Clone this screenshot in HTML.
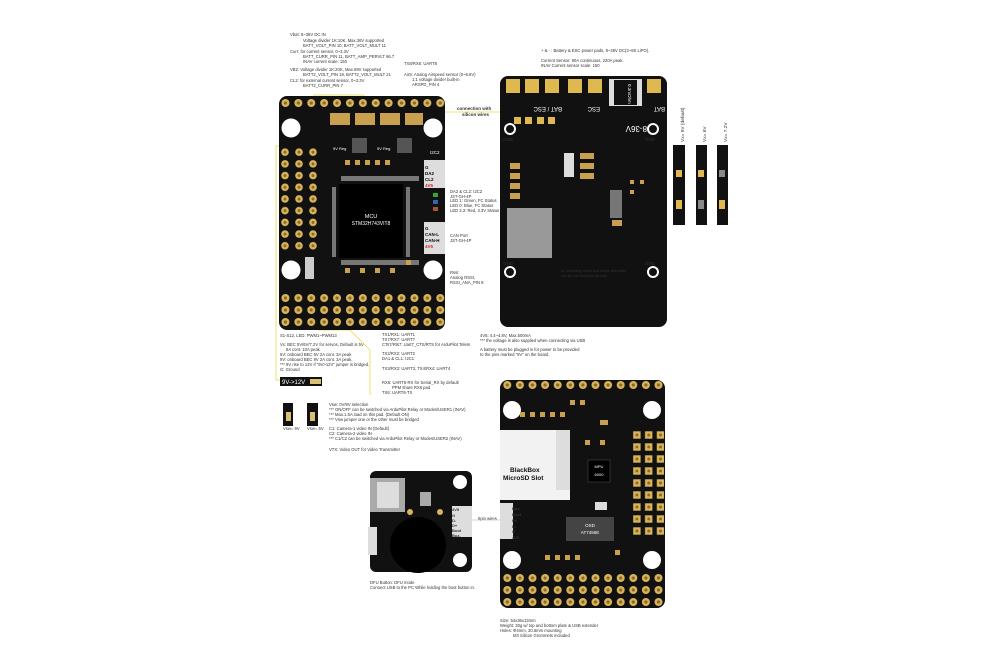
<!DOCTYPE html>
<html><head><meta charset="utf-8"><style>
html,body{margin:0;padding:0;background:#fff;width:1000px;height:667px;overflow:hidden}
svg{display:block}
text{font-family:"Liberation Sans",sans-serif;fill:#333}
.t{font-size:4.2px}
.w{fill:#fff;font-family:"Liberation Sans",sans-serif}
</style></head><body>
<svg width="1000" height="667" viewBox="0 0 1000 667" xmlns="http://www.w3.org/2000/svg">
<defs>
<pattern id="p1t" x="279" y="97" width="12.9" height="12" patternUnits="userSpaceOnUse"><circle cx="6.45" cy="6" r="4" fill="#d9b45a"/><circle cx="6.45" cy="6" r="1.6" fill="#8a6a2a"/></pattern>
<pattern id="p1l" x="278" y="146.3" width="14" height="11.7" patternUnits="userSpaceOnUse"><circle cx="7" cy="5.85" r="3.8" fill="#d9b45a"/><circle cx="7" cy="5.85" r="1.5" fill="#8a6a2a"/></pattern>
<pattern id="p1b" x="279" y="292" width="12.9" height="12" patternUnits="userSpaceOnUse"><circle cx="6.45" cy="6" r="4" fill="#d9b45a"/><circle cx="6.45" cy="6" r="1.6" fill="#8a6a2a"/></pattern>
<pattern id="p4t" x="501" y="379" width="12.6" height="12" patternUnits="userSpaceOnUse"><circle cx="6.3" cy="6" r="4" fill="#d9b45a"/><circle cx="6.3" cy="6" r="1.6" fill="#8a6a2a"/></pattern>
<pattern id="p4b" x="501" y="572" width="12.6" height="12" patternUnits="userSpaceOnUse"><circle cx="6.3" cy="6" r="4" fill="#d9b45a"/><circle cx="6.3" cy="6" r="1.6" fill="#8a6a2a"/></pattern>
<pattern id="pg" x="631" y="429" width="11.8" height="12" patternUnits="userSpaceOnUse"><rect x="2.2" y="2.3" width="7.4" height="7.4" fill="#d9b45a"/><circle cx="5.9" cy="6" r="1.5" fill="#8a6a2a"/></pattern>
</defs>

<g class="t">
<text x="290" y="36">Vbat:  8~36V DC IN</text>
<text x="303" y="42">Voltage divider 1K:10K,  Max.36V supported</text>
<text x="303" y="47">BATT_VOLT_PIN  10,  BATT_VOLT_MULT  11</text>
<text x="290" y="53">Curr:  for current sensor, 0~3.3V</text>
<text x="303" y="58">BATT_CURR_PIN 11,  BATT_AMP_PERVLT  66.7</text>
<text x="303" y="63">INAV current scale: 150</text>
<text x="290" y="71">VB2:  Voltage divider 1K:20K,  Max.69V supported</text>
<text x="303" y="76">BATT2_VOLT_PIN  18,   BATT2_VOLT_MULT  21</text>
<text x="290" y="82">CL2:  for external current sensor, 0~3.3V</text>
<text x="303" y="87">BATT2_CURR_PIN 7</text>
<text x="404" y="65">TX8/RX8: UART8</text>
<text x="404" y="76">AirS: Analog Airspeed sensor (0~6.6V)</text>
<text x="412" y="81">1:1 voltage divider built-in</text>
<text x="412" y="86">ARSPD_PIN  4</text>
<text x="541" y="52">+ &amp; - : Battery &amp; ESC power pads,  8~36V DC(3~8S LiPO).</text>
<text x="541" y="62">Current Sensor: 90A continuous, 220A peak.</text>
<text x="541" y="67">INAV Current sensor scale: 150</text>
<text x="450" y="193">DA2 &amp; CL2: I2C2</text><text x="450" y="198">JST-GH-4P</text>
<text x="450" y="202">LED 1: Green, FC Status</text>
<text x="450" y="207">LED 0: Blue, FC Status</text>
<text x="450" y="212">LED 3.3: Red, 3.3V Status</text>
<text x="450" y="237">CAN Port</text><text x="450" y="242">JST-GH-4P</text>
<text x="450" y="274">Rssi:</text><text x="450" y="279">Analog RSSI,</text><text x="450" y="284">RSSI_ANA_PIN 8</text>
<text x="280" y="337">S1-S12, LED:  PWM1~PWM13</text>
<text x="280" y="346">Vx: BEC 5V/6V/7.2V for servos, Default is 5V</text>
<text x="286" y="351">8A cont. 10A peak</text>
<text x="280" y="356">5V: onboard BEC 5V 2A cont. 3A peak</text>
<text x="280" y="361">9V: onboard BEC 9V 2A cont. 3A peak,</text>
<text x="280" y="366">*** 9V rise to 12V if "9V&gt;12V" jumper is bridged.</text>
<text x="280" y="371">G: Ground</text>
<text x="382" y="336">TX1/RX1: UART1</text>
<text x="382" y="341">TX7/RX7: UART7</text>
<text x="382" y="346">CTs7/Rts7: Uart7_CTS/RTS for ArduPilot Telem</text>
<text x="382" y="355">TX2/RX2: UART2</text>
<text x="382" y="360">DA1 &amp; CL1: I2C1</text>
<text x="382" y="370">TX3/RX3: UART3,   TX4/RX4: UART4</text>
<text x="382" y="384">RX6: UART6-RX for Serial_RX by default</text>
<text x="392" y="389">PPM share RX6 pad</text>
<text x="382" y="394">TX6: UART6-TX</text>
<text x="480" y="337">4V5: 4.4~4.8V, Max.500mA</text>
<text x="480" y="342">*** the voltage is also supplied when connecting via USB</text>
<text x="480" y="351">A battery must be plugged in for power to be provided</text>
<text x="480" y="356">to the pins marked "5V" on the board.</text>
<text x="329" y="406">Vsw: 0V/9V selection</text>
<text x="329" y="411">*** ON/OFF can be switched via ArduPilot Relay or Modes/USER1 (INAV)</text>
<text x="329" y="416">*** Max.1.5A load on this pad.  (Default ON)</text>
<text x="329" y="421">*** Vsw jumper one or the other must be bridged</text>
<text x="329" y="430">C1: Camera-1 video IN (Default)</text>
<text x="329" y="435">C2: Camera-2 video IN</text>
<text x="329" y="440">*** C1/C2 can be switched via ArduPilot Relay or Modes/USER2 (INAV)</text>
<text x="329" y="451">VTX: Video OUT for Video Transmitter</text>
<text x="370" y="584">DFU Button: DFU mode</text>
<text x="370" y="589">Connect USB to the PC While holding the boot button in.</text>
<text x="478" y="520">6pin wires</text>
<text x="500" y="622">Size: 54x36x13mm</text>
<text x="500" y="627">Weight: 30g w/ top and bottom plate &amp; USB extender</text>
<text x="500" y="632">Holes: Φ4mm, 30.5mm mounting</text>
<text x="513" y="637">M3 Silicon Grommets included</text>
<text x="283" y="430">Vsw= 9V</text><text x="307" y="430">Vsw= 5V</text>
</g>

<g fill="none" stroke="#e8d84a" stroke-width="0.8">
<rect x="314" y="95" width="50" height="15"/>
<path d="M445 112 L505 112"/>
<rect x="510" y="113" width="51" height="16" rx="2"/>
<path d="M300 146 L276 146 L276 380 L281 380"/>
<rect x="302" y="254" width="16" height="30"/>
<rect x="318" y="282" width="32" height="48"/>
<path d="M350 330 L370 350 L370 395"/>
</g>
<g class="t"><text x="457" y="110" style="font-weight:bold;font-size:4.5px">connection with</text><text x="462" y="116" style="font-weight:bold;font-size:4.5px">silicon wires</text></g>

<!-- Board 1 -->
<rect x="279" y="96" width="166" height="234" rx="8" fill="#111"/>
<rect x="279" y="97" width="166" height="12" fill="url(#p1t)"/>
<rect x="278" y="146" width="42" height="105" fill="url(#p1l)"/>
<rect x="279" y="292" width="166" height="36" fill="url(#p1b)"/>
<g fill="#fff"><circle cx="291" cy="128" r="9.5"/><circle cx="433" cy="128" r="9.5"/><circle cx="291" cy="270" r="9.5"/><circle cx="433" cy="270" r="9.5"/></g>
<g fill="#c8a050"><rect x="330" y="113" width="20" height="12"/><rect x="355" y="113" width="20" height="12"/><rect x="380" y="113" width="20" height="12"/><rect x="405" y="113" width="18" height="12"/></g>
<rect x="352" y="138" width="15" height="15" fill="#555"/><rect x="397" y="138" width="15" height="15" fill="#555"/>
<text x="333" y="150" class="w" style="font-size:4px">9V Reg</text><text x="377" y="150" class="w" style="font-size:4px">5V Reg</text>
<rect x="341" y="176" width="78" height="5" fill="#777"/><rect x="341" y="260" width="78" height="5" fill="#777"/>
<rect x="332" y="187" width="4" height="70" fill="#777"/><rect x="406" y="187" width="4" height="70" fill="#777"/>
<rect x="339" y="184" width="64" height="74" fill="#000"/>
<text x="371" y="218" class="w" style="font-size:5.5px" text-anchor="middle">MCU</text>
<text x="371" y="225" class="w" style="font-size:5px" text-anchor="middle">STM32H743VIT8</text>
<rect x="424" y="160" width="21" height="28" fill="#ddd"/><rect x="424" y="222" width="21" height="32" fill="#ddd"/>
<g style="font-size:4.5px;font-weight:bold;font-family:'Liberation Sans'"><text x="425" y="169" style="fill:#000">G</text><text x="425" y="175" style="fill:#000">DA2</text><text x="425" y="181" style="fill:#000">CL2</text><text x="425" y="187" style="fill:#d22">4V5</text>
<text x="425" y="230" style="fill:#000">G</text><text x="425" y="236" style="fill:#000">CAN-L</text><text x="425" y="242" style="fill:#000">CAN-H</text><text x="425" y="248" style="fill:#d22">4V5</text></g>
<text x="430" y="154" class="w" style="font-size:4.5px">I2C2</text>
<g fill="#c8a050"><rect x="345" y="160" width="5" height="5"/><rect x="355" y="160" width="5" height="5"/><rect x="365" y="160" width="5" height="5"/><rect x="375" y="160" width="5" height="5"/><rect x="385" y="160" width="5" height="5"/><rect x="345" y="268" width="5" height="5"/><rect x="360" y="268" width="5" height="5"/><rect x="375" y="268" width="5" height="5"/><rect x="390" y="268" width="5" height="5"/><rect x="406" y="260" width="5" height="5"/></g>
<rect x="305" y="257" width="9" height="22" fill="#ccc"/>
<rect x="433" y="193" width="5" height="4" fill="#3a3"/><rect x="433" y="200" width="5" height="4" fill="#36a"/><rect x="433" y="207" width="5" height="4" fill="#a53"/>

<!-- Board 2 -->
<rect x="500" y="76" width="167" height="251" rx="8" fill="#111"/>
<g fill="#e0b850"><rect x="506" y="79" width="14" height="14"/><rect x="525" y="79" width="14" height="14"/><rect x="545" y="79" width="14" height="14"/><rect x="568" y="79" width="14" height="14"/><rect x="588" y="79" width="14" height="14"/><rect x="647" y="79" width="14" height="14"/></g>
<rect x="609" y="79" width="33" height="27" fill="#ddd"/><rect x="614" y="80" width="23" height="25" fill="#111"/>
<text x="0" y="0" class="w" transform="translate(628,84) rotate(90)" style="font-size:4.5px">0.3mOhm</text>
<g style="font-size:6px"><text x="0" y="0" transform="translate(562,107) rotate(180)" class="w">BAT / ESC</text><text x="0" y="0" transform="translate(600,107) rotate(180)" class="w">ESC</text><text x="0" y="0" transform="translate(665,107) rotate(180)" class="w">BAT</text><text x="0" y="0" transform="translate(647,126) rotate(180)" class="w" style="font-size:8px">8-36V</text></g>
<g fill="#e0b850"><rect x="514" y="117" width="7" height="7"/><rect x="525" y="117" width="7" height="7"/><rect x="537" y="117" width="7" height="7"/><rect x="548" y="117" width="7" height="7"/></g>
<g fill="none" stroke="#fff" stroke-width="2"><circle cx="510" cy="129" r="5"/><circle cx="653" cy="129" r="5"/><circle cx="510" cy="272" r="5"/><circle cx="653" cy="272" r="5"/></g>
<g class="w" style="font-size:4.5px"><text x="503" y="141">GND</text><text x="645" y="141">GND</text><text x="503" y="265">GND</text><text x="645" y="265">GND</text>
<text x="561" y="272" style="font-size:3.8px">4x mounting holes and brass standoffs</text><text x="561" y="277" style="font-size:3.8px">are all connected to ground</text></g>
<rect x="507" y="208" width="45" height="50" fill="#999"/>
<g fill="#c8a050"><rect x="510" y="163" width="10" height="6"/><rect x="510" y="173" width="10" height="6"/><rect x="510" y="183" width="10" height="6"/><rect x="510" y="193" width="10" height="6"/><rect x="580" y="153" width="14" height="6"/><rect x="580" y="163" width="14" height="6"/><rect x="580" y="173" width="14" height="6"/><rect x="612" y="220" width="10" height="6"/><rect x="630" y="180" width="4" height="4"/><rect x="630" y="190" width="4" height="4"/><rect x="640" y="180" width="4" height="4"/></g>
<rect x="610" y="190" width="12" height="28" fill="#777"/>
<rect x="564" y="153" width="10" height="24" fill="#ddd"/>

<g fill="#111"><rect x="673" y="145" width="12" height="80"/><rect x="696" y="145" width="11" height="80"/><rect x="717" y="145" width="11" height="80"/></g>
<g fill="#e0b850"><rect x="676" y="170" width="6" height="7"/><rect x="698" y="170" width="6" height="7"/><rect x="719" y="170" width="6" height="7" fill="#888"/><rect x="676" y="200" width="6" height="9"/><rect x="698" y="200" width="6" height="9" fill="#888"/><rect x="719" y="200" width="6" height="9"/></g>
<g class="t" style="font-size:4.8px"><text transform="translate(684,142) rotate(-90)">Vx= 5V (default)</text><text transform="translate(706,142) rotate(-90)">Vx= 6V</text><text transform="translate(727,142) rotate(-90)">Vx= 7.2V</text></g>

<rect x="280" y="377" width="42" height="9" fill="#111"/><text x="282" y="384" class="w" style="font-size:6px">9V-&gt;12V</text><rect x="310" y="379" width="11" height="5" fill="#d9c070"/>
<rect x="283" y="403" width="10" height="23" fill="#111"/><rect x="286" y="412" width="5" height="9" fill="#d9c070"/>
<rect x="307" y="403" width="11" height="23" fill="#111"/><rect x="310" y="412" width="5" height="9" fill="#d9c070"/>

<!-- Board 3 USB -->
<rect x="370" y="471" width="102" height="101" rx="6" fill="#111"/>
<rect x="370" y="478" width="35" height="34" fill="#aaa"/><rect x="377" y="482" width="22" height="26" fill="#ddd"/>
<circle cx="418" cy="545" r="28" fill="#000"/>
<circle cx="460" cy="482" r="7" fill="#fff"/><circle cx="460" cy="560" r="7" fill="#fff"/>
<rect x="452" y="506" width="20" height="31" fill="#ddd"/>
<rect x="420" y="492" width="11" height="14" fill="#aaa"/>
<circle cx="410" cy="512" r="3" fill="#d9b45a"/><circle cx="440" cy="512" r="3" fill="#d9b45a"/>
<g style="font-size:4px;font-weight:bold;font-family:'Liberation Sans'"><text x="452" y="511" fill="#d22">4V5</text><text x="452" y="517" fill="#fff">G</text><text x="452" y="522" fill="#fff">D-</text><text x="452" y="527" fill="#fff">D+</text><text x="452" y="532" fill="#fff">Boot</text><text x="452" y="537" fill="#fff">Buz-</text></g>
<rect x="368" y="527" width="9" height="28" fill="#ddd"/>
<path d="M472 520 L500 520" stroke="#aaa" stroke-width="0.5"/>

<!-- Board 4 -->
<rect x="500" y="380" width="165" height="228" rx="8" fill="#111"/>
<rect x="501" y="381" width="163" height="12" fill="url(#p4t)"/>
<rect x="631" y="429" width="33" height="108" fill="url(#pg)"/>
<rect x="501" y="572" width="163" height="35" fill="url(#p4b)"/>
<g fill="#fff"><circle cx="512" cy="410" r="9"/><circle cx="652" cy="410" r="9"/><circle cx="512" cy="560" r="9"/><circle cx="652" cy="560" r="9"/></g>
<rect x="500" y="430" width="70" height="70" fill="#f2f2f2"/><rect x="556" y="430" width="14" height="60" fill="#ddd"/>
<text x="510" y="472" style="font-size:6.5px;font-weight:bold;fill:#111">BlackBox</text>
<text x="503" y="480" style="font-size:6.5px;font-weight:bold;fill:#111">MicroSD Slot</text>
<rect x="500" y="503" width="13" height="36" fill="#ddd"/>
<g style="font-size:4px;font-weight:bold;font-family:'Liberation Sans'"><text x="512" y="510" fill="#fff">Buz-</text><text x="512" y="516" fill="#fff">Boot</text><text x="512" y="522" fill="#fff">D+</text><text x="512" y="528" fill="#fff">D-</text><text x="512" y="533" fill="#fff">G</text><text x="512" y="539" fill="#d22">4V5</text></g>
<rect x="566" y="517" width="48" height="24" fill="#444"/><text x="590" y="527" class="w" text-anchor="middle" style="font-size:4.5px">OSD</text><text x="590" y="534" class="w" text-anchor="middle" style="font-size:4.5px">AT7456E</text>
<rect x="588" y="460" width="22" height="22" fill="#000" stroke="#555" stroke-width="0.5"/><text x="599" y="468" class="w" text-anchor="middle" style="font-size:4px">MPU</text><text x="599" y="476" class="w" text-anchor="middle" style="font-size:4px">6000</text>
<g fill="#c8a050"><rect x="520" y="412" width="5" height="5"/><rect x="530" y="412" width="5" height="5"/><rect x="540" y="412" width="5" height="5"/><rect x="550" y="412" width="5" height="5"/><rect x="560" y="412" width="5" height="5"/><rect x="570" y="400" width="5" height="5"/><rect x="580" y="400" width="5" height="5"/><rect x="600" y="420" width="8" height="5"/><rect x="585" y="440" width="5" height="5"/><rect x="600" y="440" width="5" height="5"/><rect x="545" y="555" width="5" height="5"/><rect x="555" y="555" width="5" height="5"/><rect x="565" y="555" width="5" height="5"/><rect x="575" y="555" width="5" height="5"/><rect x="615" y="550" width="5" height="5"/></g>
<rect x="595" y="502" width="12" height="8" fill="#ddd"/>
</svg>
</body></html>
